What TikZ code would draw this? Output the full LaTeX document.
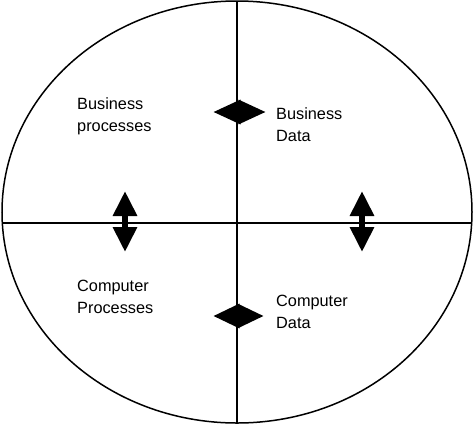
\documentclass[tikz,border=0pt]{standalone}
\usepackage{fontspec}
\setmainfont{Liberation Sans}
\usepackage{tikz}
\usetikzlibrary{positioning, arrows, arrows.meta}

\tikzset{
  label/.style={anchor=north west, inner sep=0pt, align=left,
    font=\fontsize{16.3}{22}\selectfont},
  dblarrow/.style={line width=6pt,
    {Triangle[length=#1,width=23pt]}-{Triangle[length=#1,width=23pt]}},
  dblarrow/.default=25pt
}

\begin{document}
\begin{tikzpicture}[x=1pt,y=-1pt]
\useasboundingbox (0,0) rectangle (474,424);
% The outer ellipse and the two axes
\draw[line width=1.5pt] (237,212) ellipse [x radius=235, y radius=211];
\draw[line width=1.2pt] (237,1) -- (237,423);
\draw[line width=1.2pt] (2,223) -- (472,223);

% The four quadrant labels
\node[label] (bproc) at (77,97) {Business\\processes};
\node[label] (bdata) at (276,107) {Business\\Data};
\node[label] (cproc) at (77,280) {Computer\\Processes};
\node[label] (cdata) at (276,295) {Computer\\Data};

% End points of the double arrows
\coordinate (tl) at (213,112);
\coordinate (tr) at (266,112);
\coordinate (bl) at (213,316);
\coordinate (br) at (264,316);
\coordinate (lt) at (125,191);
\coordinate (lb) at (125,252);
\coordinate (rt) at (362,191);
\coordinate (rb) at (362,252);

\draw[dblarrow=27.5pt] (tl) -- (tr);
\draw[dblarrow=26.5pt] (bl) -- (br);
\draw[dblarrow] (lt) -- (lb);
\draw[dblarrow] (rt) -- (rb);
\end{tikzpicture}
\end{document}
